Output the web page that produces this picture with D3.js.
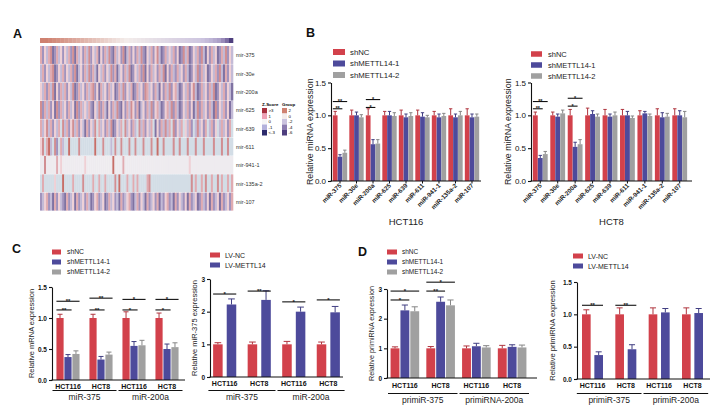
<!DOCTYPE html>
<html><head><meta charset="utf-8">
<script src="https://cdn.jsdelivr.net/npm/d3@7"></script>
<style>body{margin:0;background:#fff}svg{font-family:"Liberation Sans",Arial,sans-serif}</style>
</head><body><svg id="c" width="720" height="413"></svg>
<script>
// ---------------- DATA ----------------
const heatRows = ["mir-375","mir-30e","mir-200a","mir-625","mir-639","mir-611","mir-941-1","mir-135a-2","mir-107"];
// each digit = index into zLevels (z-score per sample column)
const heatZ = [
 "615267016251526170625162715260516271062517026151627105261572016252615017260152617205162501627152",
 "261526701526152617025162716205261527160251627015261705162516270516216251620152716250152617206152",
 "526162705162615270162516267150625162501627152601625176251620516271562015261572016251627015261520",
 "716261507162516250716252610527162051627105162751602516271562015627162015261502716251620715261502",
 "625726152637261572615206152736251627015263725162372615263051627263715263526132725163261532625163",
 "573682371362338333373333333833373332373373337337333733373383373333733733373337333733337333733733",
 "447444446454444444444454444444444444844446444444444444444444444444444444445444444444444444444444",
 "363333353338333363333733336336336333373833363363633336733333333333333333333736336373363373633636",
 "125612061521061250612516201561250162512061256102615206125160215612061521506125016215061250612516"
];
const zLevels = [-3,-2,-1,-0.5,0,0.5,1,2,3];
const groupAnno = [2,2,1.9,1.8,1.7,1.6,1.5,1.4,1.3,1.2,1.1,1.0,0.9,0.8,0.7,0.6,0.5,0.4,0.3,0.2,0.1,0,-0.1,-0.2,-0.3,-0.4,-0.5,-0.6,-0.7,-0.8,-0.9,-1.0,-1.1,-1.2,-1.3,-1.4,-1.5,-1.6,-1.7,-1.8,-2.0,-2.2,-2.4,-2.7,-3.0,-3.6,-4.5,-6];
const zLegend = [">3","1","0","-1","<-3"];
const zLegendVals = [3,1,0,-1,-3];
const groupLegend = ["2","0","-2","-4","-6"];
const groupLegendVals = [2,0,-2,-4,-6];

const miRNAs = ["miR-375","miR-30e","miR-200a","miR-625","miR-639","miR-611","miR-941-1","miR-135a-2","miR-107"];
const shSeries = ["shNC","shMETTL14-1","shMETTL14-2"];
const lvSeries = ["LV-NC","LV-METTL14"];

const hct116Mean = [[1,1,1,1,1,1,1,1,1],
                    [0.37,1.0,0.56,1.0,0.97,0.98,0.97,0.97,0.97],
                    [0.43,0.97,0.57,0.99,0.99,0.97,0.99,1.0,0.98]];
const hct116Err  = [[0.06,0.08,0.1,0.06,0.08,0.08,0.06,0.1,0.1],
                    [0.03,0.05,0.07,0.06,0.05,0.06,0.05,0.05,0.05],
                    [0.04,0.04,0.06,0.05,0.05,0.03,0.04,0.06,0.04]];
const hct8Mean = [[1,1,1,1,1,1,1,1,1],
                  [0.35,0.98,0.52,1.02,0.98,1.0,1.03,0.97,1.0],
                  [0.41,1.03,0.56,0.98,1.0,0.96,0.99,0.98,0.97]];
const hct8Err  = [[0.05,0.05,0.09,0.11,0.09,0.09,0.07,0.1,0.1],
                  [0.04,0.04,0.07,0.05,0.04,0.06,0.03,0.07,0.07],
                  [0.04,0.05,0.07,0.04,0.05,0.03,0.03,0.05,0.09]];

const cellCats = ["HCT116","HCT8","HCT116","HCT8"];
const cMirMean = [[1,1,1,1],[0.37,0.33,0.55,0.50],[0.42,0.41,0.56,0.53]];
const cMirErr  = [[0.06,0.06,0.1,0.08],[0.04,0.05,0.07,0.08],[0.05,0.04,0.08,0.07]];
const cLvMean = [[1,1,1,1],[2.22,2.36,2.0,1.98]];
const cLvErr  = [[0.05,0.07,0.09,0.07],[0.17,0.28,0.14,0.18]];
const dPriMean = [[1,1,1,1],[2.28,2.57,1.07,1.05],[2.25,2.45,1.03,1.03]];
const dPriErr  = [[0.05,0.06,0.08,0.1],[0.18,0.16,0.1,0.07],[0.15,0.18,0.06,0.08]];
const dLvMean = [[1,1,1,1],[0.37,0.46,1.03,1.02]];
const dLvErr  = [[0.07,0.1,0.1,0.1],[0.05,0.07,0.06,0.07]];

// significance: [category, fromSeries, toSeries, y value, label]
const sigB116 = [[0,0,2,1.21,"**"],[0,0,1,1.10,"**"],[2,0,2,1.24,"*"],[2,0,1,1.12,"*"]];
const sigB8   = [[0,0,2,1.21,"**"],[0,0,1,1.10,"**"],[2,0,2,1.26,"*"],[2,0,1,1.14,"*"]];
const sigCL = [[0,0,2,1.27,"**"],[0,0,1,1.13,"**"],[1,0,2,1.32,"**"],[1,0,1,1.13,"**"],
               [2,0,2,1.30,"*"],[2,0,1,1.13,"*"],[3,0,2,1.30,"*"],[3,0,1,1.13,"*"]];
const sigCR = [[0,0,1,2.54,"*"],[1,0,1,2.63,"**"],[2,0,1,2.30,"*"],[3,0,1,2.36,"*"]];
const sigDL = [[0,0,2,2.93,"*"],[0,0,1,2.63,"*"],[1,0,2,3.23,"*"],[1,0,1,2.93,"**"]];
const sigDR = [[0,0,1,1.14,"**"],[1,0,1,1.14,"**"]];

const groupsC = [["miR-375",0,1],["miR-200a",2,3]];
const groupsDL = [["primiR-375",0,1],["primiRNA-200a",2,3]];
const groupsDR = [["primiR-375",0,1],["primiR-200a",2,3]];

// ---------------- STYLE ----------------
const RED = "#d2414b", BLUE = "#4d4a9b", GRAY = "#a0a0a0";
const shColors = [RED, BLUE, GRAY], lvColors = [RED, BLUE];
const svg = d3.select("#c");

// ---------------- PANEL A: heatmap ----------------
(function(){
  const hx0 = 40, hx1 = 233, hy0 = 46, hy1 = 211;
  const zColor = d3.scaleLinear().domain(zLevels)
    .range(["#7f72a2","#a193bd","#c3bad6","#d3dde6","#eeebef","#efd0d5","#e0abb1","#d18e92","#c66e68"]);
  const gColor = d3.scaleLinear().domain([-6,-4,-2,0,2])
    .range(["#4e3f7e","#8c7cb0","#cbc3df","#f3ecea","#cf8170"]);
  const rowY = d3.scaleBand().domain(heatRows).range([hy0,hy1]);
  const g = svg.append("g");
  heatZ.forEach((s,ri)=>{
    const vals = s.split("").map(c=>zLevels[+c]);
    const cx = d3.scaleBand().domain(d3.range(vals.length)).range([hx0,hx1]);
    g.append("g").selectAll("rect").data(vals).join("rect")
      .attr("x",(d,i)=>cx(i)).attr("y",rowY(heatRows[ri]))
      .attr("width",cx.bandwidth()+0.3).attr("height",rowY.bandwidth()-0.4)
      .attr("fill",d=>zColor(d));
  });
  const ax = d3.scaleBand().domain(d3.range(groupAnno.length)).range([hx0,hx1]);
  g.append("g").selectAll("rect").data(groupAnno).join("rect")
    .attr("x",(d,i)=>ax(i)).attr("y",38).attr("width",ax.bandwidth()+0.3).attr("height",5)
    .attr("fill",d=>gColor(d));
  g.append("g").selectAll("text").data(heatRows).join("text")
    .attr("x",236).attr("y",d=>rowY(d)+rowY.bandwidth()/2+2)
    .attr("font-size",5.5).attr("fill","#333").text(d=>d);
  // legends
  const zLegColor = d3.scaleLinear().domain([-3,-1,0,1,3]).range(["#2d2b6c","#b4b2dc","#f6f6f6","#eea3b6","#a8303d"]);
  const lg = svg.append("g");
  lg.append("text").attr("x",262).attr("y",106).attr("font-size",4.4).attr("font-weight","bold").text("Z-Score");
  lg.append("text").attr("x",282).attr("y",106).attr("font-size",4.4).attr("font-weight","bold").text("Group");
  zLegendVals.forEach((v,i)=>{
    lg.append("rect").attr("x",262).attr("y",108+i*5.5).attr("width",5).attr("height",5.5).attr("fill",zLegColor(v));
    lg.append("text").attr("x",268.5).attr("y",112+i*5.5).attr("font-size",4.3).text(zLegend[i]);
  });
  groupLegendVals.forEach((v,i)=>{
    lg.append("rect").attr("x",282).attr("y",108+i*5.5).attr("width",5).attr("height",5.5).attr("fill",gColor(v));
    lg.append("text").attr("x",288.5).attr("y",112+i*5.5).attr("font-size",4.3).text(groupLegend[i]);
  });
})();

// ---------------- generic bar chart ----------------
function barChart(cfg){
  const g = svg.append("g");
  const y = d3.scaleLinear().domain([0,cfg.yMax]).range([cfg.yBot,cfg.yTop]);
  const x = d3.scaleBand().domain(d3.range(cfg.cats.length)).range(cfg.band)
    .paddingInner(cfg.padIn).paddingOuter(cfg.padOut);
  const xs = d3.scaleBand().domain(d3.range(cfg.series.length)).range([0,x.bandwidth()])
    .paddingInner(cfg.innerPad);
  const bw = xs.bandwidth();
  cfg.means.forEach((arr,si)=>{
    const col = cfg.colors[si];
    const ec = d3.color(col).darker(0.5).formatHex();
    const gg = g.append("g");
    gg.selectAll("rect").data(arr).join("rect")
      .attr("x",(d,i)=>x(i)+xs(si)).attr("y",d=>y(d))
      .attr("width",bw).attr("height",d=>y(0)-y(d)).attr("fill",col);
    gg.selectAll("path").data(arr).join("path")
      .attr("d",(d,i)=>{
        const cx = x(i)+xs(si)+bw/2, yt = y(d+cfg.errs[si][i]), cw = Math.max(bw*0.35,1.6);
        return `M${cx},${y(d)}V${yt}M${cx-cw},${yt}H${cx+cw}`;
      })
      .attr("stroke",ec).attr("stroke-width",1).attr("fill","none");
  });
  // y axis
  const yAx = d3.axisLeft(y).tickValues(cfg.ticks).tickFormat(cfg.fmt).tickSize(3).tickSizeOuter(0).tickPadding(2);
  const ya = g.append("g").attr("transform",`translate(${cfg.x0},0)`).call(yAx);
  ya.attr("font-family",null).attr("font-size",cfg.tickFs).attr("font-weight",cfg.tickBold?"bold":"normal");
  ya.selectAll("path,line").attr("stroke","#111").attr("stroke-width",1.1);
  ya.selectAll("text").attr("fill","#111");
  // x axis line
  g.append("line").attr("x1",cfg.x0-0.5).attr("x2",cfg.xEnd).attr("y1",y(0)).attr("y2",y(0))
    .attr("stroke","#111").attr("stroke-width",1.1);
  if(cfg.xTicks){
    g.append("g").selectAll("line").data(cfg.cats).join("line")
      .attr("x1",(d,i)=>x(i)+x.bandwidth()/2).attr("x2",(d,i)=>x(i)+x.bandwidth()/2)
      .attr("y1",y(0)).attr("y2",y(0)+2.5).attr("stroke","#111");
  }
  // x labels
  if(cfg.rot){
    g.append("g").selectAll("text").data(cfg.cats).join("text")
      .attr("transform",(d,i)=>`translate(${x(i)+x.bandwidth()/2+2},${y(0)+5}) rotate(-45)`)
      .attr("text-anchor","end").attr("font-size",cfg.catFs).attr("font-weight","bold")
      .attr("fill","#222").text(d=>d);
  } else {
    g.append("g").selectAll("text").data(cfg.cats).join("text")
      .attr("x",(d,i)=>x(i)+x.bandwidth()/2).attr("y",y(0)+cfg.catDy)
      .attr("text-anchor","middle").attr("font-size",cfg.catFs).attr("font-weight","bold")
      .attr("fill","#111").text(d=>d);
  }
  if(cfg.xTitle){
    g.append("text").attr("x",(cfg.x0+cfg.xEnd)/2).attr("y",cfg.xTitleY)
      .attr("text-anchor","middle").attr("font-size",cfg.xTitleFs).attr("fill","#222").text(cfg.xTitle);
  }
  if(cfg.groups){
    const half = (x.step()-x.bandwidth())/2;
    cfg.groups.forEach(([lab,a,b])=>{
      const x1 = x(a)-half+1, x2 = x(b)+x.bandwidth()+half-1;
      g.append("line").attr("x1",x1).attr("x2",x2).attr("y1",cfg.ulY).attr("y2",cfg.ulY)
        .attr("stroke","#111").attr("stroke-width",1);
      g.append("text").attr("x",(x1+x2)/2).attr("y",cfg.glY).attr("text-anchor","middle")
        .attr("font-size",cfg.glFs).attr("fill","#222").text(lab);
    });
  }
  // y label
  const ym = (cfg.yTop+cfg.yBot)/2;
  g.append("text").attr("transform",`translate(${cfg.ylX},${ym}) rotate(-90)`)
    .attr("text-anchor","middle").attr("font-size",cfg.ylFs).attr("fill","#222").text(cfg.ylabel);
  // legend
  const L = cfg.legend;
  cfg.series.forEach((s,i)=>{
    g.append("rect").attr("x",L.x).attr("y",L.y+i*L.dy-L.h/2).attr("width",L.w).attr("height",L.h)
      .attr("fill",cfg.colors[i]);
    g.append("text").attr("x",L.x+L.w+L.gap).attr("y",L.y+i*L.dy+L.fs*0.36)
      .attr("font-size",L.fs).attr("fill","#222").text(s);
  });
  // significance
  (cfg.sig||[]).forEach(([ci,a,b,v,lab])=>{
    const x1 = x(ci)+xs(a), x2 = x(ci)+xs(b)+bw, yy = y(v);
    g.append("line").attr("x1",x1).attr("x2",x2).attr("y1",yy).attr("y2",yy)
      .attr("stroke","#111").attr("stroke-width",1.1);
    g.append("text").attr("x",(x1+x2)/2).attr("y",yy+cfg.sigFs*0.3).attr("text-anchor","middle")
      .attr("font-size",cfg.sigFs).attr("font-weight","bold").attr("fill","#111").text(lab);
  });
}

const f1 = d3.format(".1f"), f0 = d3.format("d");

// Panel B HCT116
barChart({cats:miRNAs, series:shSeries, colors:shColors, means:hct116Mean, errs:hct116Err,
  yMax:1.5, yTop:82.5, yBot:181, ticks:[0,0.5,1,1.5], fmt:f1, tickFs:8, tickBold:false,
  x0:331, xEnd:481, band:[332,480], padIn:0.13, padOut:0.05, innerPad:0.02, xTicks:true,
  rot:true, catFs:6.3, xTitle:"HCT116", xTitleY:224.5, xTitleFs:9.5,
  ylabel:"Relative miRNA expression", ylX:313, ylFs:8.8,
  legend:{x:333,y:52,dy:11.5,w:12,h:6,gap:5,fs:7.8}, sig:sigB116, sigFs:5.5});
// Panel B HCT8
barChart({cats:miRNAs, series:shSeries, colors:shColors, means:hct8Mean, errs:hct8Err,
  yMax:1.5, yTop:82.5, yBot:181, ticks:[0,0.5,1,1.5], fmt:f1, tickFs:8, tickBold:false,
  x0:531, xEnd:692, band:[532,688], padIn:0.15, padOut:0.05, innerPad:0.02, xTicks:true,
  rot:true, catFs:6.3, xTitle:"HCT8", xTitleY:224.5, xTitleFs:9.5,
  ylabel:"Relative miRNA expression", ylX:511, ylFs:8.8,
  legend:{x:531,y:54,dy:11,w:11,h:5.5,gap:6,fs:7.5}, sig:sigB8, sigFs:5.5});
// Panel C left
barChart({cats:cellCats, series:shSeries, colors:shColors, means:cMirMean, errs:cMirErr,
  yMax:1.5, yTop:287, yBot:380, ticks:[0,0.5,1,1.5], fmt:f1, tickFs:6.5, tickBold:true,
  x0:52, xEnd:185, band:[51,184], padIn:0.3, padOut:0.165, innerPad:0.1,
  rot:false, catFs:7, catDy:8.5, groups:groupsC, ulY:390.5, glY:400, glFs:8.5,
  ylabel:"Relative mRNA expression", ylX:34, ylFs:7.5,
  legend:{x:52,y:252,dy:10,w:9,h:5,gap:6,fs:6.8}, sig:sigCL, sigFs:6});
// Panel C right
barChart({cats:cellCats, series:lvSeries, colors:lvColors, means:cLvMean, errs:cLvErr,
  yMax:3, yTop:279, yBot:377, ticks:[0,1,2,3], fmt:f0, tickFs:6.5, tickBold:true,
  x0:210, xEnd:343, band:[210,343], padIn:0.33, padOut:0.09, innerPad:0.3,
  rot:false, catFs:7, catDy:9, groups:groupsC, ulY:390.5, glY:400, glFs:8.5,
  ylabel:"Relative miR-375 expression", ylX:197, ylFs:7.5,
  legend:{x:210,y:255,dy:10,w:10,h:5,gap:5,fs:7}, sig:sigCR, sigFs:6});
// Panel D left
barChart({cats:cellCats, series:shSeries, colors:shColors, means:dPriMean, errs:dPriErr,
  yMax:3, yTop:289, yBot:378, ticks:[0,1,2,3], fmt:f0, tickFs:6.5, tickBold:true,
  x0:387, xEnd:537, band:[387,530], padIn:0.2, padOut:0.1, innerPad:0.1,
  rot:false, catFs:7, catDy:10, groups:groupsDL, ulY:393.5, glY:403, glFs:8.5,
  ylabel:"Relative primiRNA expression", ylX:374, ylFs:7.2,
  legend:{x:387,y:252,dy:10,w:10,h:5,gap:5,fs:6.5}, sig:sigDL, sigFs:6});
// Panel D right
barChart({cats:cellCats, series:lvSeries, colors:lvColors, means:dLvMean, errs:dLvErr,
  yMax:1.5, yTop:282, yBot:379, ticks:[0,0.5,1,1.5], fmt:f1, tickFs:6.5, tickBold:true,
  x0:577, xEnd:710, band:[577,708], padIn:0.37, padOut:0.15, innerPad:0.3,
  rot:false, catFs:7, catDy:9, groups:groupsDR, ulY:393.5, glY:403, glFs:8.5,
  ylabel:"Relative primiRNA expression", ylX:555, ylFs:7.6,
  legend:{x:573,y:256,dy:10,w:10,h:5,gap:5,fs:7}, sig:sigDR, sigFs:6});

// panel letters
[["A",13,38],["B",306,37],["C",12,253],["D",358,256]].forEach(([t,px,py])=>{
  svg.append("text").attr("x",px).attr("y",py).attr("font-size",12.5).attr("font-weight","bold")
    .attr("fill","#111").text(t);
});
</script></body></html>
